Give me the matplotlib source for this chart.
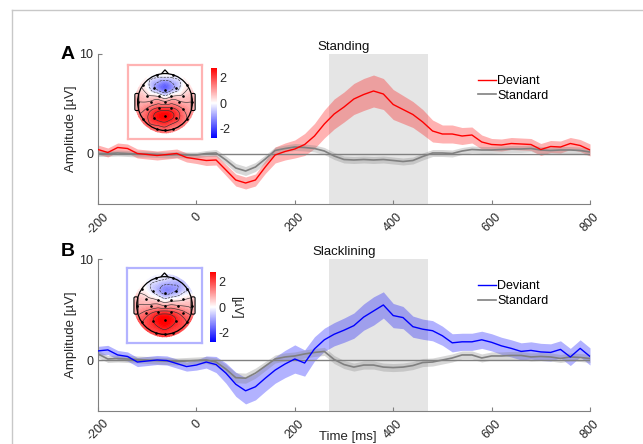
import numpy as np
import matplotlib
matplotlib.use("Agg")
import matplotlib.pyplot as plt
import matplotlib.tri as mtri
from matplotlib.patches import Circle, Polygon, FancyBboxPatch
from matplotlib.lines import Line2D
from matplotlib.cm import ScalarMappable
from matplotlib.colors import Normalize

plt.rcParams['font.family'] = ['Liberation Sans', 'DejaVu Sans']
plt.rcParams['axes.unicode_minus'] = False

# time axis (ms), one sample every 20 ms
t = np.arange(-200, 801, 20)

# Standing
dev_a = [0.45, 0.15, 0.65, 0.55, 0.05, -0.05, -0.15, -0.05, 0.05, -0.35,
         -0.5, -0.65, -0.6, -1.6, -2.6, -2.9, -2.6, -1.3, -0.1, 0.25,
         0.5, 0.95, 1.8, 3.0, 4.0, 4.7, 5.5, 5.95, 6.3, 6.0,
         4.95, 4.45, 3.95, 3.2, 2.3, 2.0, 2.0, 1.8, 1.9, 1.2,
         0.95, 0.9, 1.05, 1.0, 0.95, 0.45, 0.75, 0.7, 1.05, 0.85, 0.4]
dev_a_se = [0.45] * 11 + [0.5, 0.5, 0.55, 0.6, 0.6, 0.6, 0.65, 0.8, 0.85,
            0.9, 1.1, 1.25, 1.4, 1.5, 1.5, 1.55, 1.6, 1.6, 1.55,
            1.5, 1.4, 1.3, 1.25, 1.1, 0.9, 0.9, 0.85, 0.8, 0.7] + [0.6] * 11
std_a = [0.05, 0.05, 0.1, 0.05, 0.0, 0.0, -0.05, -0.1, -0.05, -0.1,
         -0.1, 0.05, 0.1, -0.6, -1.4, -1.7, -1.3, -0.5, 0.35, 0.55,
         0.7, 0.65, 0.55, 0.3, -0.2, -0.55, -0.6, -0.55, -0.6, -0.55,
         -0.65, -0.75, -0.65, -0.25, 0.1, 0.1, 0.05, 0.3, 0.45, 0.4,
         0.4, 0.45, 0.5, 0.5, 0.55, 0.4, 0.35, 0.4, 0.4, 0.35, 0.2]
std_a_se = [0.3] * 12 + [0.35, 0.4, 0.45, 0.45, 0.45, 0.4] + [0.35] * 33

# Slacklining
dev_b = [0.9, 1.0, 0.5, 0.35, -0.2, -0.1, 0.0, -0.05, -0.35, -0.65,
         -0.5, -0.2, -0.45, -1.3, -2.4, -3.05, -2.65, -1.8, -1.0, -0.4,
         0.1, -0.3, 1.1, 2.0, 2.55, 2.95, 3.4, 4.25, 4.85, 5.45,
         4.4, 4.2, 3.3, 3.05, 2.9, 2.4, 1.7, 1.8, 1.8, 2.0,
         1.75, 1.4, 1.15, 0.85, 0.95, 0.8, 0.75, 1.05, 0.3, 1.15, 0.35]
dev_b_se = [0.45] * 10 + [0.5, 0.6, 0.8, 1.0, 1.2, 1.3, 1.3, 1.3, 1.3, 1.35,
            1.4, 1.3, 1.2, 1.15, 1.15, 1.2, 1.25, 1.3, 1.4, 1.3,
            1.2, 1.1, 1.05, 1.0, 1.0, 0.95, 0.9] + [0.85] * 14
std_b = [0.6, 0.1, 0.15, 0.1, 0.05, 0.0, -0.05, -0.1, -0.15, -0.1,
         -0.05, 0.0, -0.2, -0.9, -1.75, -1.8, -1.3, -0.6, 0.1, 0.3,
         0.4, 0.6, 0.75, 0.85, 0.05, -0.45, -0.7, -0.5, -0.5, -0.7,
         -0.75, -0.7, -0.55, -0.25, -0.2, 0.0, 0.2, 0.5, 0.5, 0.2,
         0.4, 0.4, 0.45, 0.45, 0.3, 0.35, 0.3, 0.15, 0.3, 0.25, 0.15]
std_b_se = [0.35] * 12 + [0.4, 0.45, 0.5, 0.5, 0.5, 0.45] + [0.4] * 33

# electrode layout (head radius 1, nose up) and topography values (µV)
elec_x = [-0.3, 0.3, -0.8, -0.4, 0.0, 0.4, 0.8, -0.65, -0.22, 0.22, 0.65,
          -0.98, -0.5, 0.0, 0.5, 0.98, -0.65, -0.22, 0.22, 0.65,
          -0.8, -0.4, 0.0, 0.4, 0.8, -0.3, 0.0, 0.3]
elec_y = [0.95, 0.95, 0.58, 0.5, 0.42, 0.5, 0.58, 0.22, 0.2, 0.2, 0.22,
          0.0, 0.0, 0.0, 0.0, 0.0, -0.25, -0.22, -0.22, -0.25,
          -0.58, -0.55, -0.5, -0.55, -0.58, -0.95, -1.0, -0.95]
topo_a = [-0.1, -0.1, 0.2, -0.9, -1.5, -0.8, 0.2, 0.4, 0.2, 0.2, 0.4,
          0.8, 0.9, 0.9, 0.9, 0.8, 1.4, 1.9, 1.9, 1.3,
          1.5, 2.3, 2.7, 2.1, 1.3, 1.5, 1.6, 1.3]
topo_b = [-0.2, -0.5, 0.1, -0.5, -1.1, -1.0, -0.5, 0.5, 0.2, 0.0, 0.2,
          0.8, 0.9, 0.8, 0.8, 0.7, 1.5, 1.9, 1.9, 1.5,
          1.8, 2.3, 2.8, 2.3, 1.8, 1.9, 2.1, 1.9]

tick_col = '#262626'
ax_col = '#808080'
cmap = plt.get_cmap('bwr')
norm = Normalize(-2.7, 2.7)

fig = plt.figure(figsize=(6.43, 4.44), dpi=100)

# light frame around the figure
fig.add_artist(Line2D([11.5 / 643, 11.5 / 643], [0, 1 - 10 / 444], color='#c8c8c8', lw=1))
fig.add_artist(Line2D([11.5 / 643, 1], [1 - 10 / 444, 1 - 10 / 444], color='#c8c8c8', lw=1))


def erp_panel(rect, dev, dev_se, std, std_se, col, title, letter, letter_y):
    ax = fig.add_axes(rect)
    dev = np.array(dev); dev_se = np.array(dev_se)
    std = np.array(std); std_se = np.array(std_se)
    ax.axvspan(270, 470, color='#e5e5e5', lw=0, zorder=0)
    ax.fill_between(t, dev - dev_se, dev + dev_se, color=col, alpha=0.3, lw=0, zorder=1)
    ax.fill_between(t, std - std_se, std + std_se, color='#808080', alpha=0.3, lw=0, zorder=1)
    ax.axhline(0, color='#808080', lw=1, zorder=2)
    ax.plot(t, std, color='#808080', lw=1.2, label='Standard', zorder=3)
    ax.plot(t, dev, color=col, lw=1.0, label='Deviant', zorder=4)
    ax.set_xlim(-200, 800)
    ax.set_ylim(-5, 10)
    ax.set_xticks(range(-200, 801, 200))
    ax.set_yticks([0, 10])
    for s in ['top', 'right']:
        ax.spines[s].set_visible(False)
    for s in ['left', 'bottom']:
        ax.spines[s].set_color(ax_col)
    ax.tick_params(direction='in', length=3, color=ax_col, labelcolor=tick_col, labelsize=9)
    ax.tick_params(axis='x', pad=5)
    plt.setp(ax.get_xticklabels(), rotation=45, ha='center')
    ax.set_ylabel('Amplitude [µV]', fontsize=9.5, color=tick_col)
    ax.yaxis.set_label_coords(-0.042, 0.5)
    ax.set_title(title, fontsize=9.5, pad=3, color='#111111')
    h, l = ax.get_legend_handles_labels()
    ax.legend(h[::-1], l[::-1], loc='upper left', bbox_to_anchor=(0.76, 0.9), frameon=False,
              fontsize=9, handlelength=1.4, handletextpad=0.1, labelspacing=0.2, borderpad=0)
    ax.text(-0.061, letter_y, letter, transform=ax.transAxes, fontsize=14, fontweight='bold',
            ha='center', va='center')
    return ax


def topo_inset(rect, cbar_rect, vals, edge, cbar_label=None):
    ax = fig.add_axes(rect)
    ex = np.array(elec_x); ey = np.array(elec_y); v = np.array(vals)
    ang = np.linspace(0, 2 * np.pi, 28, endpoint=False)
    rx, ry = 1.2 * np.sin(ang), 1.2 * np.cos(ang)
    near = np.argmin((rx[:, None] - ex) ** 2 + (ry[:, None] - ey) ** 2, axis=1)
    tri = mtri.Triangulation(np.r_[ex, rx], np.r_[ey, ry])
    tri2, z2 = mtri.UniformTriRefiner(tri).refine_field(np.r_[v, v[near]], subdiv=4)
    cf = ax.tricontourf(tri2, z2, levels=np.linspace(-2.7, 2.7, 60), cmap=cmap, norm=norm,
                        extend='both')
    cl = ax.tricontour(tri2, z2, levels=[-1.0, -0.4, 0.3, 0.8, 1.3, 1.8, 2.3],
                       colors='#333333', linewidths=0.45)
    cf.set_clip_path(Circle((0, 0), 1.1, transform=ax.transData))
    cl.set_clip_path(Circle((0, 0), 1.0, transform=ax.transData))
    ax.add_patch(Circle((0, 0), 1.0, fill=False, ec='k', lw=0.9))
    ax.add_patch(Polygon([[-0.13, 0.99], [0, 1.13], [0.13, 0.99]], closed=False, fill=False, ec='k', lw=0.9))
    for sx in (-1, 1):
        ax.add_patch(FancyBboxPatch((sx * 1.03 - 0.07, -0.3), 0.14, 0.6,
                                    boxstyle='round,pad=0.0,rounding_size=0.05',
                                    fc='none', ec='k', lw=0.8))
    ax.plot(ex, ey, 'k.', ms=1.8)
    ax.set_xlim(-1.35, 1.35)
    ax.set_ylim(-1.3, 1.3)
    ax.set_xticks([]); ax.set_yticks([])
    for s in ax.spines.values():
        s.set_color(edge)
        s.set_linewidth(1.6)
    cax = fig.add_axes(cbar_rect)
    cb = fig.colorbar(ScalarMappable(norm=norm, cmap=cmap), cax=cax, ticks=[-2, 0, 2])
    cb.outline.set_visible(False)
    cax.tick_params(length=0, labelsize=9, labelcolor=tick_col, pad=2)
    if cbar_label:
        cb.set_label(cbar_label, rotation=270, fontsize=9, color=tick_col, labelpad=9)


erp_panel([98 / 643, 1 - 204 / 444, 492 / 643, 150 / 444], dev_a, dev_a_se, std_a, std_a_se,
          '#ff0000', 'Standing', 'A', 0.995)
erp_panel([98 / 643, 1 - 410.5 / 444, 492 / 643, 151.5 / 444], dev_b, dev_b_se, std_b, std_b_se,
          '#0000ff', 'Slacklining', 'B', 1.05)

topo_inset([128 / 643, 1 - 139 / 444, 74 / 643, 74 / 444],
           [211 / 643, 1 - 138 / 444, 6 / 643, 70 / 444], topo_a, '#ffb3b3')
topo_inset([127 / 643, 1 - 343 / 444, 75 / 643, 75 / 444],
           [210 / 643, 1 - 342 / 444, 6 / 643, 70 / 444], topo_b, '#b3b3ff', '[µV]')

fig.text(348 / 643, 1 - 437 / 444, 'Time [ms]', fontsize=9.5, color=tick_col, ha='center', va='center')

fig.savefig('out.png', dpi=100)
